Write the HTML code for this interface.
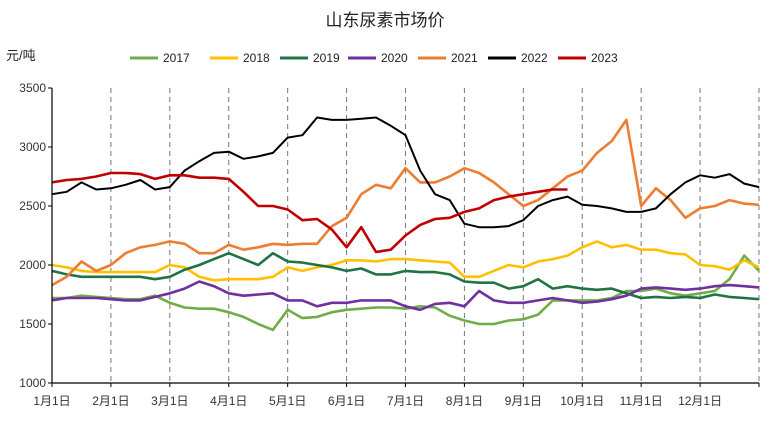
<!DOCTYPE html>
<html><head><meta charset="utf-8"><style>
body{margin:0;background:#fff;font-family:"Liberation Sans","Noto Sans CJK SC",sans-serif;}
svg text{font-family:"Liberation Sans","Noto Sans CJK SC",sans-serif;}
</style></head><body>
<svg id="chart" width="770" height="416" xmlns="http://www.w3.org/2000/svg">
<text x="385" y="26" text-anchor="middle" font-size="17" fill="#222">山东尿素市场价</text>
<text x="6" y="60" font-size="13" fill="#222">元/吨</text>
<g id="legend"></g>
<g id="grid"></g>
<g id="series"></g>
<g id="axes"></g>
</svg>
<script>
const monthLabels=["1月1日","2月1日","3月1日","4月1日","5月1日","6月1日","7月1日","8月1日","9月1日","10月1日","11月1日","12月1日"];
const yTicks=[1000,1500,2000,2500,3000,3500];
const seriesNames=["2017","2018","2019","2020","2021","2022","2023"];
const seriesColors=["#70ad47","#ffc000","#217346","#7030a0","#ed7d31","#000000","#c00000"];
const s2017=[1720,1720,1740,1730,1720,1710,1710,1740,1680,1640,1630,1630,1600,1560,1500,1450,1620,1550,1560,1600,1620,1630,1640,1640,1630,1650,1640,1570,1530,1500,1500,1530,1540,1580,1700,1700,1700,1700,1720,1780,1780,1800,1760,1740,1760,1780,1880,2080,1950];
const s2018=[2000,1980,1950,1940,1940,1940,1940,1940,2000,1980,1900,1870,1880,1880,1880,1900,1980,1950,1980,2000,2040,2040,2030,2050,2050,2040,2030,2020,1900,1900,1950,2000,1980,2030,2050,2080,2150,2200,2150,2170,2130,2130,2100,2090,2000,1990,1960,2040,1980];
const s2019=[1950,1920,1900,1900,1900,1900,1900,1880,1900,1960,2000,2050,2100,2050,2000,2100,2030,2020,2000,1980,1950,1970,1920,1920,1950,1940,1940,1920,1860,1850,1850,1800,1820,1880,1800,1820,1800,1790,1800,1760,1720,1730,1720,1730,1720,1750,1730,1720,1710];
const s2020=[1700,1720,1720,1720,1710,1700,1700,1730,1760,1800,1860,1820,1760,1740,1750,1760,1700,1700,1650,1680,1680,1700,1700,1700,1650,1620,1670,1680,1650,1780,1700,1680,1680,1700,1720,1700,1680,1690,1710,1740,1800,1810,1800,1790,1800,1820,1830,1820,1810];
const s2021=[1830,1900,2030,1950,2000,2100,2150,2170,2200,2180,2100,2100,2170,2130,2150,2180,2170,2180,2180,2330,2400,2600,2680,2650,2820,2700,2700,2750,2820,2780,2700,2600,2500,2550,2650,2750,2800,2950,3050,3230,2500,2650,2550,2400,2480,2500,2550,2520,2510];
const s2022=[2600,2620,2700,2640,2650,2680,2720,2640,2660,2800,2880,2950,2960,2900,2920,2950,3080,3100,3250,3230,3230,3240,3250,3180,3100,2800,2600,2550,2350,2320,2320,2330,2380,2500,2550,2580,2510,2500,2480,2450,2450,2480,2600,2700,2760,2740,2770,2690,2660];
const s2023=[2700,2720,2730,2750,2780,2780,2770,2730,2760,2760,2740,2740,2730,2620,2500,2500,2470,2380,2390,2300,2150,2320,2110,2130,2250,2340,2390,2400,2450,2480,2550,2580,2600,2620,2640,2640,null,null,null,null,null,null,null,null,null,null,null,null,null];
const allSeries=[s2017,s2018,s2019,s2020,s2021,s2022,s2023];
const NS="http://www.w3.org/2000/svg";
const X0=52,X1=759,Y0=383,Y1=88;
function xScale(m){return X0+(X1-X0)*m/12;}
function yScale(v){return Y0-(v-1000)/(3500-1000)*(Y0-Y1);}
function mk(tag,attrs,parent){const e=document.createElementNS(NS,tag);for(const k in attrs)e.setAttribute(k,attrs[k]);parent.appendChild(e);return e;}
const grid=document.getElementById('grid'),axes=document.getElementById('axes'),ser=document.getElementById('series'),leg=document.getElementById('legend');
for(let i=1;i<=12;i++){
  const g=mk('line',{x1:xScale(i),x2:xScale(i),y1:Y1,y2:Y0,stroke:'#777','stroke-width':1,'stroke-dasharray':'5,4'},grid);
  
  
}
const ya=mk('line',{x1:X0,x2:X0,y1:Y1,y2:Y0,stroke:'#000','stroke-width':1.2},axes);


const xa=mk('line',{x1:X0,x2:X1,y1:Y0,y2:Y0,stroke:'#000','stroke-width':1.2},axes);


yTicks.forEach(v=>{
  const t=mk('line',{x1:X0-4,x2:X0,y1:yScale(v),y2:yScale(v),stroke:'#000'},axes);
  
  
  const l=mk('text',{x:X0-6,y:yScale(v)+4,'text-anchor':'end','font-size':12,fill:'#333'},axes);
  l.textContent=v;
  
  
});
monthLabels.forEach((m,i)=>{
  const t=mk('line',{x1:xScale(i),x2:xScale(i),y1:Y0,y2:Y0+4,stroke:'#000'},axes);
  
  
  const l=mk('text',{x:xScale(i),y:405,'text-anchor':'middle','font-size':12,fill:'#333'},axes);
  l.textContent=m;
  
  
});
const tE=mk('line',{x1:X1,x2:X1,y1:Y0,y2:Y0+4,stroke:'#000'},axes);


allSeries.forEach((arr,si)=>{
  let d='',pen=false;
  const n=arr.length-1;
  arr.forEach((v,i)=>{
    if(v===null){pen=false;return;}
    d+=(pen?'L':'M')+xScale(i*12/n).toFixed(1)+','+yScale(v).toFixed(1);pen=true;
  });
  const p=mk('path',{d:d,fill:'none',stroke:seriesColors[si],'stroke-width':si===5?2:2.6,'stroke-linejoin':'round'},ser);
  
  
});
const legX=[130,210,280,348,418,488,558];
seriesNames.forEach((nm,i)=>{
  const l=mk('line',{x1:legX[i],x2:legX[i]+28,y1:58,y2:58,stroke:seriesColors[i],'stroke-width':3},leg);
  
  
  const t=mk('text',{x:legX[i]+33,y:62,'font-size':12,fill:'#222'},leg);
  t.textContent=nm;
  
  
});
</script>
</body></html>
